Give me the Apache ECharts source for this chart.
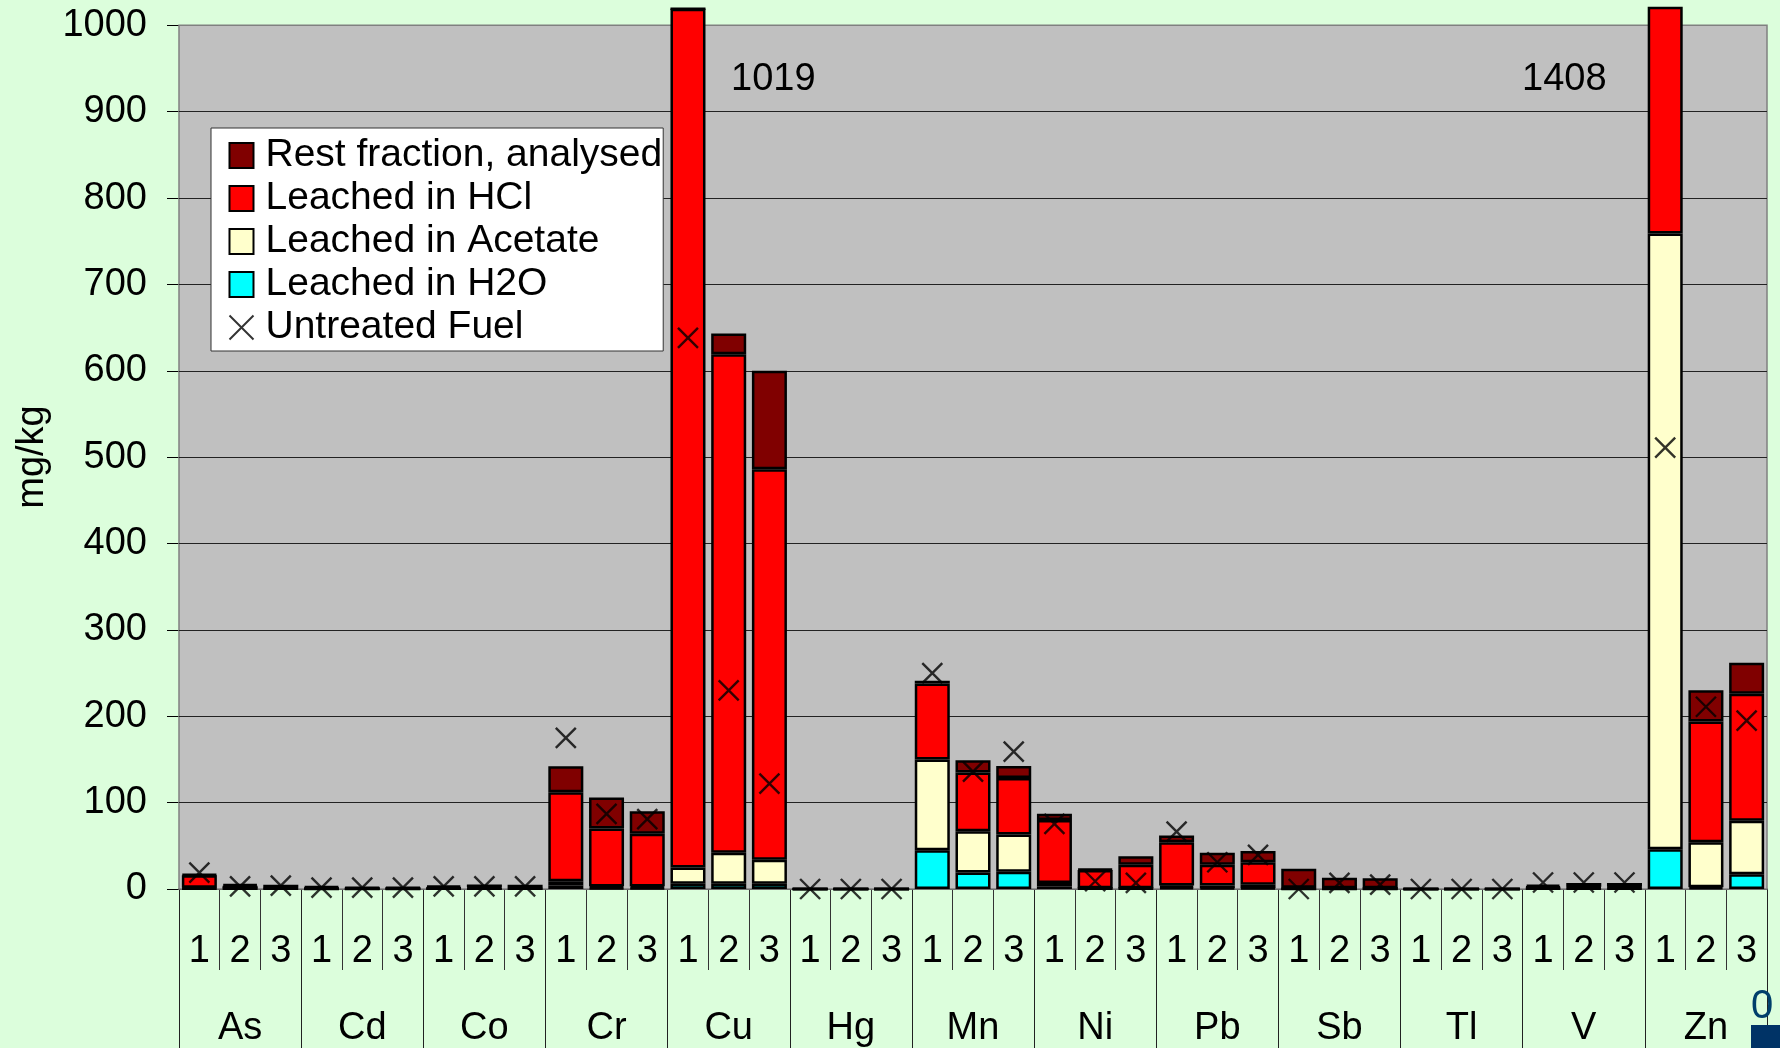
<!DOCTYPE html>
<html>
<head>
<meta charset="UTF-8">
<title>Leached fractions</title>
<script src="https://cdn.jsdelivr.net/npm/echarts@6/dist/echarts.min.js"></script>
<style>
    html, body { margin: 0; padding: 0; background: #DCFEDC; }
    #chart { width: 1780px; height: 1048px; }
</style>
</head>
<body>
<div id="chart"></div>
<script>
// element groups and sample numbers on the x axis
var elements = ['As', 'Cd', 'Co', 'Cr', 'Cu', 'Hg', 'Mn', 'Ni', 'Pb', 'Sb', 'Tl', 'V', 'Zn'];
var samples = ['1', '2', '3'];
var yTicks = [0, 100, 200, 300, 400, 500, 600, 700, 800, 900, 1000];
var gridValues = [100, 200, 300, 400, 500, 600, 700, 800, 900];

// mg/kg, in order As1..As3, Cd1..Cd3, ... Zn1..Zn3
var h2o = [0.5, 0.3, 0.3,  0.2, 0.2, 0.2,  0.3, 0.3, 0.3,  4, 1, 1,  6, 6, 6,  0, 0, 0,
           45, 19, 20,  3, 0.5, 0.5,  2, 1, 1,  0.2, 0.2, 0.2,  0, 0, 0,  0.5, 0.5, 0.5,  46, 2, 17];
var acetate = [1, 0.5, 0.5,  0.3, 0.3, 0.3,  0.5, 0.5, 0.5,  5, 2, 2,  19, 36, 28,  0, 0, 0,
               105, 48, 43,  4, 0.5, 0.5,  2, 3, 4,  0.3, 0.3, 0.3,  0, 0, 0,  1, 1, 1,  713, 52, 62];
var hcl = [14.5, 3, 1,  1, 0.5, 0.5,  1, 1.5, 1,  103, 67, 61,  994, 577, 452,  0, 0, 0,
           88, 68, 65.5,  73, 21, 27,  50, 24, 26,  1, 0.5, 0.5,  0, 0, 0,  1, 1, 1,  649, 140, 147];
var rest = [1, 1.5, 3,  1.5, 1, 1,  2, 3, 3,  30, 36, 26,  0, 24, 114,  0, 0, 0,
            3, 14, 14,  7, 1, 10,  8, 14, 13,  22, 12, 11.5,  0, 0, 0,  2.5, 4.5, 4.5,  0, 36, 36];
var untreated = [19, 3, 4,  1.5, 1.5, 1.5,  3, 3, 3,  175, 87, 81,  638, 230, 122,  0, 0, 0,
                 250, 136, 159,  75.5, 9, 7,  66.5, 31, 39.6,  0, 7, 5,  0, 0, 0,  7.5, 7.5, 7.5,  511, 211, 195];

var categories = [];
elements.forEach(function (el) {
    samples.forEach(function (s) { categories.push(el + ' ' + s); });
});

var font = 'Liberation Sans, Arial, sans-serif';
var crossPath = 'path://M0,0L10,10M10,0L0,10';

function barSeries(name, data, color) {
    return {
        name: name,
        type: 'bar',
        stack: 'total',
        data: data,
        barCategoryGap: '14%',
        z: 3,
        itemStyle: { color: color, borderColor: '#000', borderWidth: 2.5 },
        emphasis: { disabled: true }
    };
}

var chart = echarts.init(document.getElementById('chart'));
chart.setOption({
    backgroundColor: '#DCFEDC',
    animation: false,
    textStyle: { fontFamily: font },
    grid: { left: 179, right: 13, top: 8, bottom: 159 },
    legend: {
        orient: 'vertical',
        left: 211,
        top: 128,
        padding: [8, 1, 4, 16],
        itemGap: 4,
        itemWidth: 24,
        itemHeight: 25,
        backgroundColor: '#fff',
        borderColor: '#333',
        borderWidth: 1,
        borderRadius: 0,
        selectedMode: false,
        textStyle: { fontSize: 39, color: '#000', fontFamily: font, padding: [0, 0, 0, 7] },
        data: [
            { name: 'Rest fraction, analysed', icon: 'rect' },
            { name: 'Leached in HCl', icon: 'rect' },
            { name: 'Leached in Acetate', icon: 'rect' },
            { name: 'Leached in H2O', icon: 'rect' },
            { name: 'Untreated Fuel', icon: crossPath,
              itemStyle: { color: 'none', borderColor: '#000', borderWidth: 2 } }
        ]
    },
    xAxis: [{
        type: 'category',
        data: categories,
        position: 'bottom',
        axisLine: { show: true, lineStyle: { color: '#000', width: 1.5 } },
        axisTick: { show: true, interval: 0, length: 81, lineStyle: { color: '#333', width: 1 } },
        axisLabel: {
            interval: 0, margin: 44, fontSize: 38, color: '#000',
            formatter: function (v) { return v.split(' ')[1]; }
        }
    }, {
        type: 'category',
        data: elements,
        position: 'bottom',
        axisLine: { show: false },
        axisTick: { show: true, interval: 0, length: 165, lineStyle: { color: '#222', width: 1 } },
        axisLabel: { interval: 0, margin: 121, fontSize: 38, color: '#000' }
    }],
    yAxis: {
        type: 'value',
        min: 0,
        max: 1020,
        name: 'mg/kg',
        nameLocation: 'middle',
        nameRotate: 90,
        nameGap: 125,
        nameTextStyle: { fontSize: 38, color: '#000', padding: [0, 17, 0, 0] },
        axisLine: { show: false },
        axisTick: { show: true, length: 12, customValues: yTicks, lineStyle: { color: '#000', width: 1 } },
        axisLabel: {
            margin: 32, fontSize: 38, color: '#000', customValues: yTicks,
            formatter: function (v) { return String(v); }
        },
        splitLine: { show: false }
    },
    series: [
        barSeries('Leached in H2O', h2o, '#00FFFF'),
        barSeries('Leached in Acetate', acetate, '#FFFFCC'),
        barSeries('Leached in HCl', hcl, '#FF0000'),
        barSeries('Rest fraction, analysed', rest, '#800000'),
        {
            name: 'Untreated Fuel',
            type: 'scatter',
            data: untreated,
            symbol: crossPath,
            symbolSize: 20,
            z: 5,
            itemStyle: { color: 'none', borderColor: '#000', borderWidth: 2.4 },
            emphasis: { disabled: true },
            markArea: {
                silent: true,
                z: 1,
                itemStyle: { color: '#C0C0C0', borderColor: '#808080', borderWidth: 1.5 },
                data: [[{ yAxis: 0 }, { yAxis: 1000 }]]
            },
            markLine: {
                silent: true,
                z: 2,
                symbol: 'none',
                label: { show: false },
                lineStyle: { color: '#222', width: 1.2, type: 'solid' },
                data: gridValues.map(function (v) { return { yAxis: v }; })
            }
        }
    ],
    graphic: [
        { type: 'text', z: 20, left: 731, top: 61, style: { text: '1019', font: '38px ' + font, fill: '#000' } },
        { type: 'text', z: 20, left: 1522, top: 61, style: { text: '1408', font: '38px ' + font, fill: '#000' } },
        { type: 'text', z: 20, left: 1751, top: 987, style: { text: '0', font: '40px Liberation Sans Narrow, sans-serif', fill: '#003F6B' } },
        { type: 'rect', z: 20, left: 1751, top: 1025, shape: { width: 29, height: 23 }, style: { fill: '#003366' } }
    ]
});
</script>
</body>
</html>
